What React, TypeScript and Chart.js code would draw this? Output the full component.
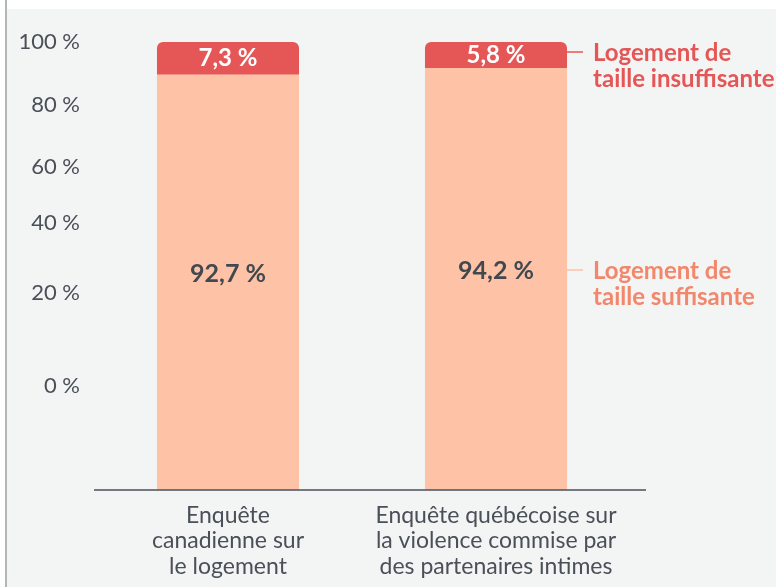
import React, { useEffect, useRef } from "react";
import { Chart, registerables } from "chart.js";

Chart.register(...registerables);

const categories: string[][] = [
  ["Enquête", "canadienne sur", "le logement"],
  ["Enquête québécoise sur", "la violence commise par", "des partenaires intimes"],
];
const sufficient: number[] = [92.7, 94.2];
const insufficient: number[] = [7.3, 5.8];
const sufficientLabels: string[] = ["92,7 %", "94,2 %"];
const insufficientLabels: string[] = ["7,3 %", "5,8 %"];
const seriesNames: string[][] = [
  ["Logement de", "taille suffisante"],
  ["Logement de", "taille insuffisante"],
];
// tick labels as printed in the reference, and the axis values where they sit
const yTickLabels: string[] = ["100 %", "80 %", "60 %", "40 %", "20 %", "0 %"];
const yTickValues: number[] = [100, 85.9, 72.1, 59.6, 44.0, 23.2];

const FONT = "Lato, 'Noto Sans', sans-serif";
const TEXT = "#4a5058";
const PEACH = "#fec3a6";
const RED = "#e55656";
const SALMON = "#f2876b";

const labelPlugin = {
  id: "customLabels",
  afterDatasetsDraw(chart: any) {
    const ctx = chart.ctx;
    const area = chart.chartArea;
    ctx.save();
    // baseline
    ctx.strokeStyle = TEXT;
    ctx.lineWidth = 1.5;
    ctx.beginPath();
    ctx.moveTo(area.left, area.bottom);
    ctx.lineTo(area.right + 16, area.bottom);
    ctx.stroke();

    const m0 = chart.getDatasetMeta(0);
    const m1 = chart.getDatasetMeta(1);
    ctx.textAlign = "center";
    ctx.textBaseline = "middle";
    m0.data.forEach((bar: any, i: number) => {
      const cy = (bar.y + bar.base) / 2 - 8;
      ctx.font = `bold 25px ${FONT}`;
      ctx.fillStyle = "#414850";
      ctx.fillText(sufficientLabels[i], bar.x, cy);
    });
    m1.data.forEach((bar: any, i: number) => {
      const cy = (bar.y + bar.base) / 2;
      ctx.font = `bold 24px ${FONT}`;
      ctx.fillStyle = "#ffffff";
      ctx.fillText(insufficientLabels[i], bar.x, cy);
    });

    // side labels next to last bar
    const last0 = m0.data[m0.data.length - 1];
    const last1 = m1.data[m1.data.length - 1];
    const right = last0.x + last0.width / 2;
    const items = [
      { el: last0, names: seriesNames[0], color: SALMON, line: PEACH, dy: -9 },
      { el: last1, names: seriesNames[1], color: RED, line: RED, dy: -3 },
    ];
    items.forEach((it) => {
      const cy = (it.el.y + it.el.base) / 2 + it.dy;
      ctx.strokeStyle = it.line;
      ctx.lineWidth = 1.5;
      ctx.beginPath();
      ctx.moveTo(right, cy);
      ctx.lineTo(right + 16, cy);
      ctx.stroke();
      ctx.fillStyle = it.color;
      ctx.textAlign = "left";
      ctx.font = `bold 24px ${FONT}`;
      it.names.forEach((t, k) => ctx.fillText(t, right + 26, cy + 1.5 + k * 26));
    });
    ctx.restore();
  },
};

export default function App() {
  const ref = useRef<HTMLCanvasElement | null>(null);
  useEffect(() => {
    if (!ref.current) return;
    const chart = new Chart(ref.current, {
      type: "bar",
      data: {
        labels: categories as any,
        datasets: [
          {
            label: seriesNames[0].join(" "),
            data: sufficient,
            backgroundColor: PEACH,
            borderWidth: 0,
          },
          {
            label: seriesNames[1].join(" "),
            data: insufficient,
            backgroundColor: RED,
            borderWidth: 0,
            borderRadius: { topLeft: 6, topRight: 6, bottomLeft: 0, bottomRight: 0 },
            borderSkipped: false,
          },
        ],
      },
      plugins: [labelPlugin],
      options: {
        animation: false,
        responsive: false,
        maintainAspectRatio: false,
        datasets: { bar: { categoryPercentage: 0.53, barPercentage: 1 } },
        layout: { padding: { top: 42, right: 146, bottom: 0, left: 0 } },
        plugins: { legend: { display: false }, tooltip: { enabled: false } },
        scales: {
          x: {
            stacked: true,
            grid: { display: false, drawTicks: false },
            border: { display: false },
            afterFit: (s: any) => {
              s.height = 97;
            },
            ticks: {
              color: TEXT,
              padding: 13,
              maxRotation: 0,
              autoSkip: false,
              font: { family: FONT, size: 23, lineHeight: 1.1 },
            },
          },
          y: {
            stacked: true,
            min: 0,
            max: 100,
            grid: { display: false, drawTicks: false },
            border: { display: false },
            afterFit: (s: any) => {
              s.width = 94;
            },
            afterBuildTicks: (s: any) => {
              s.ticks = yTickValues.map((v) => ({ value: v }));
            },
            ticks: {
              color: TEXT,
              padding: 14,
              font: { family: FONT, size: 22 },
              callback: (_v: any, i: number) => yTickLabels[i],
            },
          },
        },
      },
    });
    return () => chart.destroy();
  }, []);

  return (
    <div style={{ position: "fixed", left: 0, top: 0, width: 776, height: 587, background: "#ffffff", overflow: "hidden" }}>
      <div style={{ position: "absolute", left: 7, top: 9, right: 0, bottom: 0, background: "#f3f4f4" }} />
      <div style={{ position: "absolute", left: 5, top: 0, width: 2, bottom: 0, background: "#b3b6b9" }} />
      <canvas ref={ref} width={776} height={587} style={{ position: "absolute", left: 0, top: 0, width: 776, height: 587 }} />
    </div>
  );
}
